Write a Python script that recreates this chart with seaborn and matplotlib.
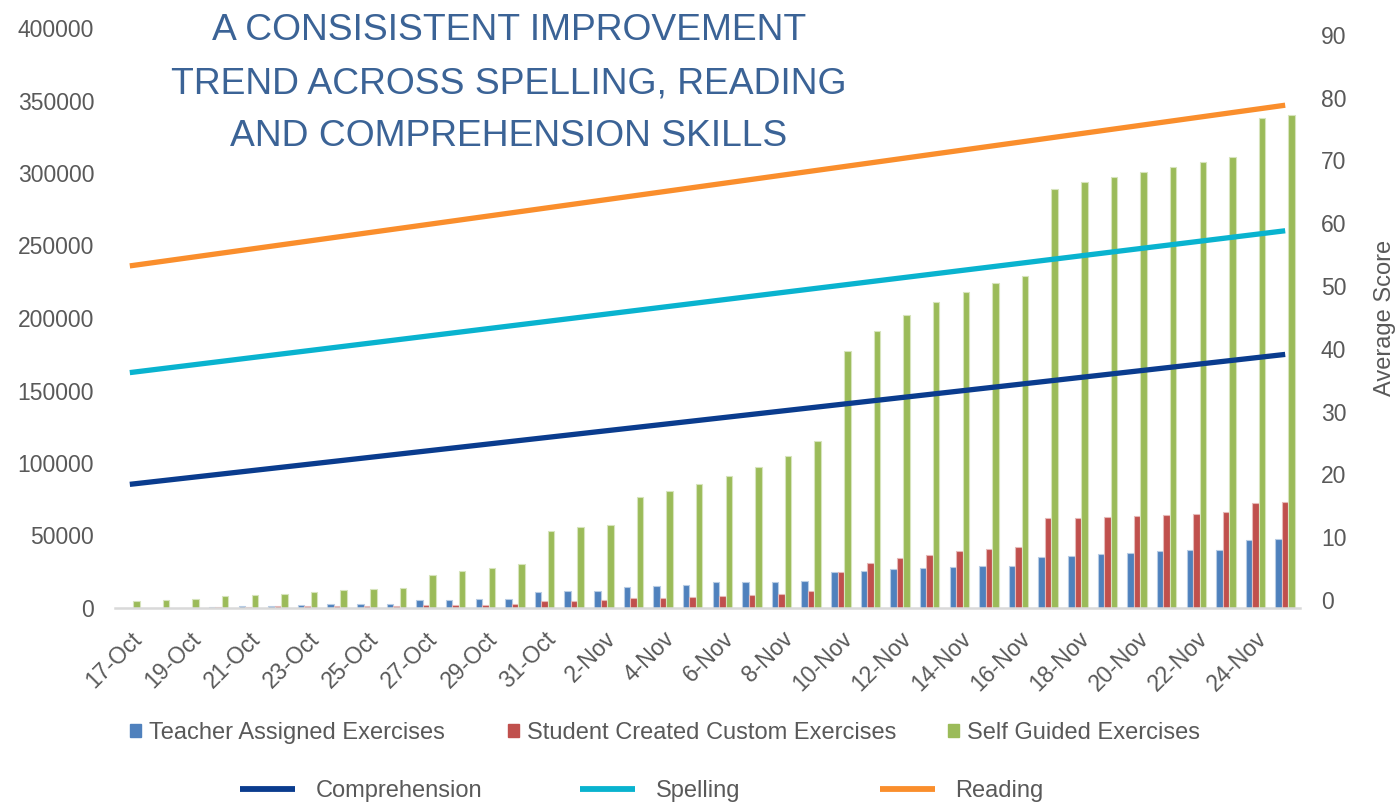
import matplotlib
matplotlib.use("Agg")
import matplotlib.pyplot as plt
import seaborn as sns
import pandas as pd
from matplotlib.patches import Patch
from matplotlib.lines import Line2D

# ---------------- data ----------------
dates = ["17-Oct", "18-Oct", "19-Oct", "20-Oct", "21-Oct", "22-Oct", "23-Oct", "24-Oct",
         "25-Oct", "26-Oct", "27-Oct", "28-Oct", "29-Oct", "30-Oct", "31-Oct",
         "1-Nov", "2-Nov", "3-Nov", "4-Nov", "5-Nov", "6-Nov", "7-Nov", "8-Nov", "9-Nov",
         "10-Nov", "11-Nov", "12-Nov", "13-Nov", "14-Nov", "15-Nov", "16-Nov", "17-Nov",
         "18-Nov", "19-Nov", "20-Nov", "21-Nov", "22-Nov", "23-Nov", "24-Nov", "25-Nov"]

teacher = [100, 150, 200, 1000, 1200, 1600, 1800, 2500, 2500, 2800,
           5300, 5800, 5900, 6300, 10700, 11400, 11400, 14200, 15500, 16200,
           17600, 18100, 18200, 18800, 24600, 25800, 26700, 27800, 28400, 28900,
           29100, 35100, 36000, 37300, 38200, 39400, 39900, 40300, 47000, 47800]

student = [80, 100, 120, 900, 1000, 1100, 1100, 1100, 1200, 1200,
           2200, 2200, 2300, 2500, 4600, 5000, 5200, 6800, 7100, 7800,
           8200, 8800, 9800, 11600, 25100, 31000, 34700, 36700, 39100, 40800,
           42100, 61900, 62400, 62900, 63400, 64400, 64900, 66300, 72500, 72900]

self_guided = [5100, 5600, 6100, 8200, 8900, 9900, 10700, 12300, 13100, 14000,
               22900, 25600, 27800, 30400, 53300, 55600, 57500, 76800, 81000, 85800,
               91000, 97500, 105100, 115500, 177000, 191000, 202000, 210900, 217800, 224300,
               229100, 289000, 294000, 297500, 301000, 304400, 307300, 310900, 338200, 340200]

series_names = ["Teacher Assigned Exercises", "Student Created Custom Exercises",
                "Self Guided Exercises"]
bar_colors = ["#4F81BD", "#C0504D", "#9BBB59"]
edge_colors = ["#B8CCE4", "#E6B9B8", "#D7E4BD"]

trend_names = ["Comprehension", "Spelling", "Reading"]
trend_dates = ["17-Oct", "25-Nov"]
comprehension = [18.4, 39.1]
spelling = [36.2, 58.8]
reading = [53.2, 78.8]
trend_colors = ["#0A3C8E", "#09B3CF", "#FA8E2C"]

left_ticks = [0, 50000, 100000, 150000, 200000, 250000, 300000, 350000, 400000]
right_ticks = [0, 10, 20, 30, 40, 50, 60, 70, 80, 90]
x_tick_labels = dates[::2]
title_lines = ["A CONSISISTENT IMPROVEMENT",
               "TREND ACROSS SPELLING, READING",
               "AND COMPREHENSION SKILLS"]
right_label = "Average Score"

# ---------------- style ----------------
sns.set_theme(style="white")
plt.rcParams["font.family"] = ["Liberation Sans", "DejaVu Sans"]
GRAY = "#595959"
TICK_FS = 16.5
LEG_FS = 17

W, H = 1399, 806
fig = plt.figure(figsize=(W / 100, H / 100), dpi=100)
ax = fig.add_axes([115 / W, 1 - 608 / H, 1185 / W, 580 / H])

bar_df = pd.DataFrame({
    "date": dates * 3,
    "series": [series_names[0]] * len(dates) + [series_names[1]] * len(dates)
              + [series_names[2]] * len(dates),
    "value": teacher + student + self_guided,
})

sns.barplot(data=bar_df, x="date", y="value", hue="series", order=dates,
            hue_order=series_names, palette=bar_colors, width=0.66,
            saturation=1, errorbar=None, legend=False, ax=ax, zorder=2)

for cont, ec in zip(ax.containers, edge_colors):
    for p in cont:
        p.set_edgecolor(ec)
        p.set_linewidth(0.8)

ax.set_xlim(-0.5, len(dates) - 0.5)
ax.set_ylim(left_ticks[0], left_ticks[-1])
ax.set_yticks(left_ticks)
ax.set_yticklabels([str(v) for v in left_ticks])
ax.set_xticks([dates.index(d) for d in x_tick_labels])
ax.set_xticklabels(x_tick_labels, rotation=45, ha="right", rotation_mode="anchor")
ax.tick_params(axis="y", length=0, pad=15, labelsize=TICK_FS, labelcolor=GRAY)
ax.tick_params(axis="x", length=0, pad=14, labelsize=TICK_FS, labelcolor=GRAY)
ax.set_xlabel("")
ax.set_ylabel("")
for s in ["top", "left", "right"]:
    ax.spines[s].set_visible(False)
ax.spines["bottom"].set_color("#D9D9D9")
ax.spines["bottom"].set_linewidth(1.8)

# ---------------- trend lines ----------------
ax2 = ax.twinx()
trend_df = pd.DataFrame({
    "pos": [dates.index(d) for d in trend_dates] * 3,
    "skill": [trend_names[0]] * 2 + [trend_names[1]] * 2 + [trend_names[2]] * 2,
    "score": comprehension + spelling + reading,
})
sns.lineplot(data=trend_df, x="pos", y="score", hue="skill", hue_order=trend_names,
             palette=trend_colors, linewidth=3.8, legend=False, ax=ax2)
for ln in ax2.lines:
    ln.set_solid_capstyle("butt")

ax2.set_xlim(-0.5, len(dates) - 0.5)
ax2.set_ylim(-1.3, 91.1)
ax2.set_yticks(right_ticks)
ax2.set_yticklabels([str(v) for v in right_ticks])
ax2.tick_params(axis="y", length=0, pad=15, labelsize=TICK_FS, labelcolor=GRAY)
ax2.set_xlabel("")
ax2.set_ylabel(right_label, fontsize=LEG_FS, color=GRAY, labelpad=20)
for s in ["top", "left", "right", "bottom"]:
    ax2.spines[s].set_visible(False)

# ---------------- title ----------------
title_color = "#3B6396"
for line, base_y in zip(title_lines, [40.5, 93.5, 146.5]):
    fig.text(509 / W, 1 - base_y / H, line, ha="center", va="baseline",
             fontsize=26.8, color=title_color)

# ---------------- legends ----------------
bar_handles = [Patch(facecolor=c, edgecolor=c) for c in bar_colors]
for h, lab, xpx in zip(bar_handles, series_names, [130, 508, 948]):
    fig.legend(handles=[h], labels=[lab], loc="center left",
               bbox_to_anchor=(xpx / W, 1 - 733 / H), frameon=False,
               borderpad=0, borderaxespad=0, handlelength=0.45, handleheight=0.45,
               handletextpad=0.35, fontsize=LEG_FS, labelcolor=GRAY)

line_handles = [Line2D([0], [0], color=c, linewidth=4.2, solid_capstyle="butt")
                for c in trend_colors]
for h, lab, xpx in zip(line_handles, trend_names, [240, 580, 880]):
    fig.legend(handles=[h], labels=[lab], loc="center left",
               bbox_to_anchor=(xpx / W, 1 - 791 / H), frameon=False,
               borderpad=0, borderaxespad=0, handlelength=2.35,
               handletextpad=0.85, fontsize=LEG_FS, labelcolor=GRAY)

fig.savefig("out.png", dpi=100)
